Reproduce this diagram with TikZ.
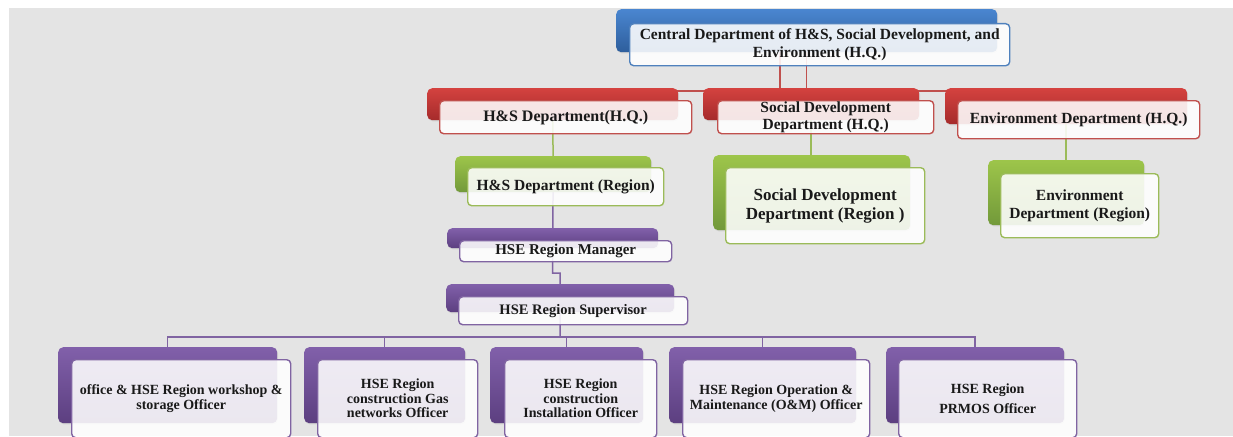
\documentclass[tikz,border=0pt]{standalone}
\usepackage{fontspec}
\setmainfont{Liberation Serif}
\usepackage{tikz}
\usetikzlibrary{shadows}

\definecolor{canvasgray}{HTML}{E4E4E4}
\definecolor{blueA}{HTML}{4A86D0}
\definecolor{blueB}{HTML}{2E5E9C}
\definecolor{blueline}{HTML}{4F81BD}
\definecolor{redA}{HTML}{D4423F}
\definecolor{redB}{HTML}{A52B2B}
\definecolor{redline}{HTML}{C0504D}
\definecolor{greenA}{HTML}{9DC54A}
\definecolor{greenB}{HTML}{72993A}
\definecolor{greenline}{HTML}{9BBB59}
\definecolor{purpleA}{HTML}{8160AA}
\definecolor{purpleB}{HTML}{5C3F80}
\definecolor{purpleline}{HTML}{8064A2}

\pgfdeclarelayer{canvas}
\pgfdeclarelayer{wires}
\pgfsetlayers{canvas,wires,main}

\tikzset{
  back/.style={anchor=north west, inner sep=0pt, rounded corners=5pt,
    drop shadow={opacity=0.18, shadow xshift=0.8pt, shadow yshift=-1.2pt}},
  front/.style={anchor=north west, inner sep=0pt, rounded corners=4pt,
    line width=1.4pt, fill=white, fill opacity=0.88, text opacity=1,
    align=center, text=black!90},
  blueback/.style={back, top color=blueA, bottom color=blueB},
  redback/.style={back, top color=redA, bottom color=redB},
  greenback/.style={back, top color=greenA, bottom color=greenB},
  purpleback/.style={back, top color=purpleA, bottom color=purpleB},
  bluefront/.style={front, draw=blueline},
  redfront/.style={front, draw=redline},
  greenfront/.style={front, draw=greenline},
  purplefront/.style={front, draw=purpleline},
  wire/.style={line width=1.5pt},
}

\begin{document}
\begin{tikzpicture}[x=1pt,y=1pt,yscale=-1,xscale=1]
\useasboundingbox (0,0) rectangle (1233,436);

%Canvas
\begin{pgfonlayer}{canvas}
\fill [white] (0,0) rectangle (1233,436);
\fill [canvasgray] (9,8) rectangle (1233,436);
\end{pgfonlayer}

%Central department
\node [blueback, minimum width=381pt, minimum height=43pt] (top back) at (616,9) {};
\node [bluefront, minimum width=380pt, minimum height=42pt, font=\bfseries\fontsize{15.5}{17.5}\selectfont] (top) at (629,23) {Central Department of H\&S, Social Development, and\\Environment (H.Q.)};

%Head quarters row
\node [redback, minimum width=251pt, minimum height=32pt] (hsq back) at (427,88) {};
\node [redfront, minimum width=252pt, minimum height=33pt, font=\bfseries\fontsize{16}{17.5}\selectfont] (hsq) at (439,100) {H\&S Department(H.Q.)};
\node [redback, minimum width=216pt, minimum height=32pt] (socq back) at (703,88) {};
\node [redfront, minimum width=216pt, minimum height=33pt, font=\bfseries\fontsize{15.5}{16.5}\selectfont] (socq) at (717,100) {Social Development\\Department (H.Q.)};
\node [redback, minimum width=242pt, minimum height=36pt] (envq back) at (945,88) {};
\node [redfront, minimum width=242pt, minimum height=38pt, font=\bfseries\fontsize{15.5}{17.5}\selectfont] (envq) at (957,100) {Environment Department (H.Q.)};

%Region row
\node [greenback, minimum width=196pt, minimum height=36pt] (hsr back) at (455,156) {};
\node [greenfront, minimum width=196pt, minimum height=38pt, font=\bfseries\fontsize{15.5}{17.5}\selectfont] (hsr) at (467,167) {H\&S Department (Region)};
\node [greenback, minimum width=197pt, minimum height=75pt] (socr back) at (713,155) {};
\node [greenfront, minimum width=199pt, minimum height=76pt, font=\bfseries\fontsize{17}{19}\selectfont] (socr) at (725,167) {Social Development\\Department (Region )};
\node [greenback, minimum width=156pt, minimum height=65pt] (envr back) at (988,160) {};
\node [greenfront, minimum width=158pt, minimum height=64pt, font=\bfseries\fontsize{15.5}{17.5}\selectfont] (envr) at (1000,173) {Environment\\Department (Region)};

%Manager and supervisor
\node [purpleback, minimum width=211pt, minimum height=20pt] (mgr back) at (447,228) {};
\node [purplefront, minimum width=212pt, minimum height=21pt, font=\bfseries\fontsize{15}{17}\selectfont] (mgr) at (459,240) {HSE Region Manager};
\node [purpleback, minimum width=228pt, minimum height=28pt] (sup back) at (446,284) {};
\node [purplefront, minimum width=229pt, minimum height=28pt, font=\bfseries\fontsize{14.5}{16.5}\selectfont] (sup) at (458,296) {HSE Region Supervisor};

%Officers
\node [purpleback, minimum width=219pt, minimum height=76pt] (off1 back) at (58,347) {};
\node [purplefront, minimum width=219pt, minimum height=78pt, font=\bfseries\fontsize{14}{15}\selectfont] (off1) at (71,359) {office \& HSE Region workshop \&\\storage Officer};
\node [purpleback, minimum width=161pt, minimum height=76pt] (off2 back) at (304,347) {};
\node [purplefront, minimum width=160pt, minimum height=78pt, font=\bfseries\fontsize{14}{14.5}\selectfont] (off2) at (317,359) {HSE Region\\construction Gas\\networks Officer};
\node [purpleback, minimum width=153pt, minimum height=76pt] (off3 back) at (490,347) {};
\node [purplefront, minimum width=152pt, minimum height=78pt, font=\bfseries\fontsize{14}{14.5}\selectfont] (off3) at (504,359) {HSE Region\\construction\\Installation Officer};
\node [purpleback, minimum width=187pt, minimum height=76pt] (off4 back) at (669,347) {};
\node [purplefront, minimum width=187pt, minimum height=78pt, font=\bfseries\fontsize{14}{15}\selectfont] (off4) at (682,359) {HSE Region Operation \&\\Maintenance (O\&M) Officer};
\node [purpleback, minimum width=178pt, minimum height=76pt] (off5 back) at (886,347) {};
\node [purplefront, minimum width=178pt, minimum height=78pt, font=\bfseries\fontsize{14}{20}\selectfont] (off5) at (898,359) {HSE Region\\PRMOS Officer};

%Connectors
\coordinate (qbus) at (780,91);
\coordinate (jog) at (560,273);
\coordinate (obus) at (560,337);
\begin{pgfonlayer}{wires}
\draw [wire, redline] (top back.center -| qbus) -- (qbus);
\draw [wire, redline] (hsq back.center |- qbus) -- (envq back.center |- qbus);
\draw [wire, redline] (top back.center) -- (top back.center |- socq back.north);
\draw [wire, greenline] (hsq back.center) -- (hsr back.center);
\draw [wire, greenline] (socq back.center) -- (socq back.center |- socr back.north);
\draw [wire, greenline] (envq back.center) -- (envr back.center);
\draw [wire, purpleline] (hsr back.center) -- (mgr back.center);
\draw [wire, purpleline] (mgr back.center) |- (jog) -- (sup back.center);
\draw [wire, purpleline] (sup back.center) -- (obus);
\foreach \o in {off1,off2,off3,off4,off5}
  \draw [wire, purpleline] (obus) -| (\o\space back.center);
\end{pgfonlayer}

\end{tikzpicture}
\end{document}
